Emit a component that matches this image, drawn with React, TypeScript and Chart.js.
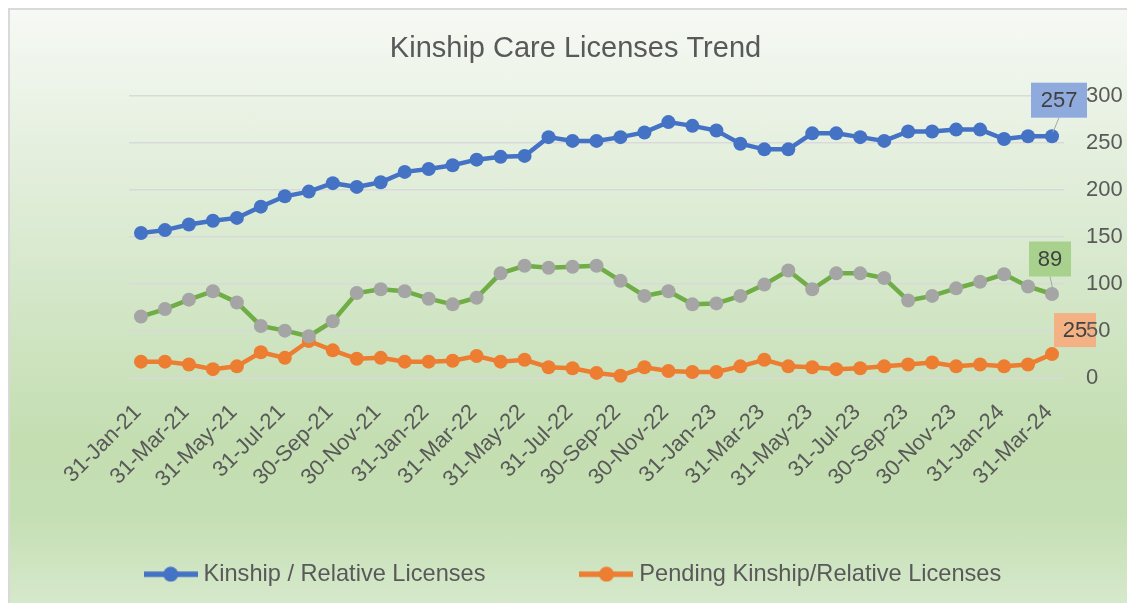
import React, { useEffect, useRef } from "react";
import { Chart, registerables } from "chart.js";

Chart.register(...registerables);

// ---- data ----
const monthEnds = [
  "31-Jan-21", "28-Feb-21", "31-Mar-21", "30-Apr-21", "31-May-21", "30-Jun-21",
  "31-Jul-21", "31-Aug-21", "30-Sep-21", "31-Oct-21", "30-Nov-21", "31-Dec-21",
  "31-Jan-22", "28-Feb-22", "31-Mar-22", "30-Apr-22", "31-May-22", "30-Jun-22",
  "31-Jul-22", "31-Aug-22", "30-Sep-22", "31-Oct-22", "30-Nov-22", "31-Dec-22",
  "31-Jan-23", "28-Feb-23", "31-Mar-23", "30-Apr-23", "31-May-23", "30-Jun-23",
  "31-Jul-23", "31-Aug-23", "30-Sep-23", "31-Oct-23", "30-Nov-23", "31-Dec-23",
  "31-Jan-24", "29-Feb-24", "31-Mar-24",
];

const kinshipLicenses = [
  154, 157, 163, 167, 170, 182, 193, 198, 207, 203, 208, 219, 222,
  226, 232, 235, 236, 256, 252, 252, 256, 261, 272, 268, 263, 249,
  243, 243, 260, 260, 256, 252, 262, 262, 264, 264, 254, 257, 257,
];

const otherLicenses = [
  65, 73, 83, 92, 80, 55, 50, 44, 60, 90, 94, 92, 84,
  78, 85, 111, 119, 117, 118, 119, 103, 87, 92, 78, 79, 87,
  99, 114, 94, 111, 111, 106, 82, 87, 95, 102, 110, 97, 89,
];

const pendingLicenses = [
  17, 17, 14, 9, 12, 27, 21, 39, 29, 20, 21, 17, 17,
  18, 23, 17, 19, 11, 10, 5, 2, 11, 7, 6, 6, 12,
  19, 12, 11, 9, 10, 12, 14, 16, 12, 14, 12, 14, 25,
];

const yMin = 0;
const yMax = 300;
const yStep = 50;

const chartTitle = "Kinship Care Licenses Trend";
const seriesNames = [
  "Kinship / Relative Licenses",
  "Other Licenses",
  "Pending Kinship/Relative Licenses",
];

// ---- styles ----
const FONT = "'Liberation Sans', Arial, Helvetica, sans-serif";
const TEXT = "#595959";
const BLUE = "#4472c4";
const ORANGE = "#ed7d31";
const GREEN = "#70ad47";
const GRAY = "#a5a5a5";
const LEGEND_PAD = 100;

function legendIcon(color: string) {
  const c = document.createElement("canvas");
  c.width = 54;
  c.height = 16;
  const ctx = c.getContext("2d")!;
  ctx.strokeStyle = color;
  ctx.lineWidth = 5.5;
  ctx.beginPath();
  ctx.moveTo(0, 8);
  ctx.lineTo(54, 8);
  ctx.stroke();
  ctx.fillStyle = color;
  ctx.beginPath();
  ctx.arc(27, 8, 7.5, 0, Math.PI * 2);
  ctx.fill();
  return c;
}

const endLabelStyles = [
  { dataset: 0, bg: "#8faadc", dx: 7, dy: -36, w: 56, h: 35, leader: true },
  { dataset: 1, bg: "#a9d18e", dx: -2, dy: -35, w: 42, h: 35, leader: true },
  { dataset: 2, bg: "#f4b183", dx: 23, dy: -24, w: 42, h: 34, leader: false },
];

const endLabelsPlugin = {
  id: "endLabels",
  afterDatasetsDraw(chart: any) {
    const ctx = chart.ctx;
    ctx.save();
    for (const s of endLabelStyles) {
      const meta = chart.getDatasetMeta(s.dataset);
      const data = chart.data.datasets[s.dataset].data;
      const last = data.length - 1;
      const pt = meta.data[last];
      if (!pt) continue;
      const cx = pt.x + s.dx;
      const cy = pt.y + s.dy;
      if (s.leader) {
        ctx.strokeStyle = "#a6a6a6";
        ctx.lineWidth = 1;
        ctx.beginPath();
        ctx.moveTo(cx, cy + s.h / 2);
        ctx.lineTo(pt.x + 1, pt.y - 4);
        ctx.stroke();
      }
      ctx.fillStyle = s.bg;
      ctx.fillRect(cx - s.w / 2, cy - s.h / 2, s.w, s.h);
      ctx.fillStyle = "#404040";
      ctx.font = `22px ${FONT}`;
      ctx.textAlign = "center";
      ctx.textBaseline = "middle";
      ctx.fillText(String(data[last]), cx, cy + 1);
    }
    ctx.restore();
  },
};

export default function App() {
  const ref = useRef<HTMLCanvasElement | null>(null);

  useEffect(() => {
    document.documentElement.style.overflow = "hidden";
    const canvas = ref.current;
    if (!canvas) return;
    const blueIcon = legendIcon(BLUE);
    const orangeIcon = legendIcon(ORANGE);

    const chart = new Chart(canvas, {
      type: "line",
      data: {
        labels: monthEnds,
        datasets: [
          {
            label: seriesNames[0],
            data: kinshipLicenses,
            borderColor: BLUE,
            backgroundColor: BLUE,
            pointBackgroundColor: BLUE,
            pointBorderColor: BLUE,
            borderWidth: 4.5,
            pointRadius: 7,
            pointBorderWidth: 0,
            tension: 0,
            order: 0,
          },
          {
            label: seriesNames[1],
            data: otherLicenses,
            borderColor: GREEN,
            backgroundColor: GRAY,
            pointBackgroundColor: GRAY,
            pointBorderColor: GRAY,
            borderWidth: 4.5,
            pointRadius: 7,
            pointBorderWidth: 0,
            tension: 0,
            order: 1,
          },
          {
            label: seriesNames[2],
            data: pendingLicenses,
            borderColor: ORANGE,
            backgroundColor: ORANGE,
            pointBackgroundColor: ORANGE,
            pointBorderColor: ORANGE,
            borderWidth: 4.5,
            pointRadius: 7,
            pointBorderWidth: 0,
            tension: 0,
            order: 2,
          },
        ],
      },
      options: {
        responsive: false,
        animation: false,
        layout: { padding: { left: 17, right: 13, top: 0, bottom: 9 } },
        plugins: {
          tooltip: { enabled: false },
          title: {
            display: true,
            text: chartTitle,
            color: TEXT,
            font: { family: FONT, size: 29, weight: "normal" },
            padding: { top: 22, bottom: 29 },
          },
          legend: {
            position: "bottom",
            labels: {
              color: TEXT,
              font: { family: FONT, size: 23.6 },
              usePointStyle: true,
              pointStyleWidth: 42,
              padding: LEGEND_PAD,
              filter: (item: any) => item.datasetIndex !== 1,
              generateLabels: (ch: any) =>
                ch.data.datasets.map((ds: any, i: number) => ({
                  text: ds.label,
                  fontColor: TEXT,
                  pointStyle: i === 0 ? blueIcon : orangeIcon,
                  datasetIndex: i,
                  hidden: false,
                  lineWidth: 0,
                  strokeStyle: "transparent",
                  fillStyle: "transparent",
                })),
            },
          },
        },
        scales: {
          spacer: {
            type: "linear",
            position: "left",
            display: true,
            grid: { display: false },
            border: { display: false },
            ticks: { display: false },
            afterFit: (s: any) => {
              s.width = 102;
            },
          },
          x: {
            type: "category",
            offset: true,
            grid: { display: false },
            border: { display: false },
            afterFit: (s: any) => {
              s.height = 184.8 - LEGEND_PAD;
              // let the rotated labels extend below the shortened axis box
              s._computeLabelArea = () => undefined;
            },
            ticks: {
              autoSkip: false,
              maxRotation: 45,
              minRotation: 45,
              padding: 14,
              labelOffset: -3,
              color: TEXT,
              font: { family: FONT, size: 22 },
              callback: (_v: any, i: number) => (i % 2 === 0 ? monthEnds[i] : ""),
            },
          },
          y: {
            position: "right",
            min: yMin,
            max: yMax,
            grid: { color: "#d9d9d9", lineWidth: 1.5, drawTicks: false },
            border: { display: false },
            afterFit: (s: any) => {
              s.width = 60;
            },
            ticks: {
              stepSize: yStep,
              autoSkip: false,
              padding: 22,
              color: TEXT,
              font: { family: FONT, size: 22 },
              z: 1,
            },
          },
        },
      },
      plugins: [endLabelsPlugin],
    } as any);

    return () => chart.destroy();
  }, []);

  return (
    <div
      style={{
        width: 1127,
        height: 595,
        borderLeft: "2px solid #d9d9d9",
        borderTop: "2px solid #d9d9d9",
        background:
          "linear-gradient(to bottom, #f6f9f4 0%, #e6f0e0 22%, #d2e6c6 50%, #c4deb2 72%, #c5dfb4 85%, #d6e9cc 100%)",
      }}
    >
      <canvas ref={ref} width={1127} height={595} style={{ display: "block" }} />
    </div>
  );
}
